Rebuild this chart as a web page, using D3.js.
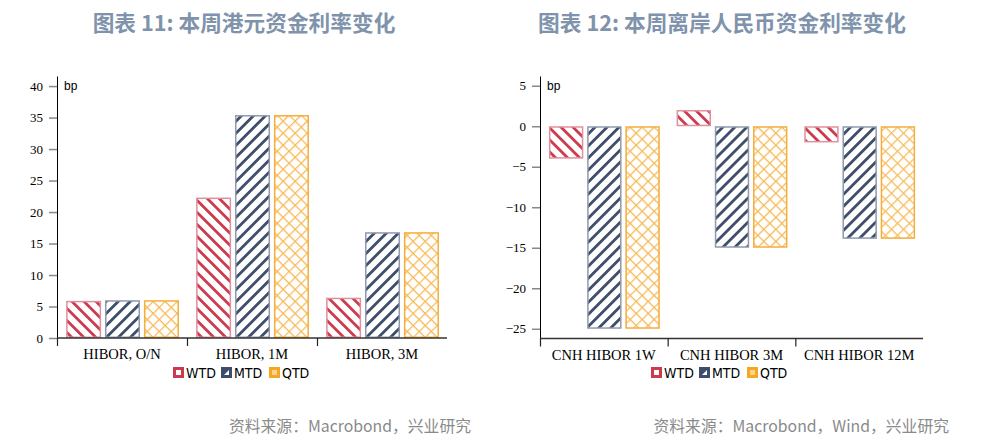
<!DOCTYPE html>
<html><head><meta charset="utf-8">
<script src="https://cdn.jsdelivr.net/npm/d3@7"></script>
<style>body{margin:0;background:#fff}svg{display:block}</style>
</head><body>
<svg id="c" width="981" height="442"></svg>
<script>
const seriesNames = ["WTD", "MTD", "QTD"];
const leftTitle = "图表 11: 本周港元资金利率变化";
const leftCategories = ["HIBOR, O/N", "HIBOR, 1M", "HIBOR, 3M"];
const leftWTD = [5.9, 22.3, 6.4];
const leftMTD = [6.0, 35.4, 16.8];
const leftQTD = [6.0, 35.4, 16.8];
const leftTicks = [0, 5, 10, 15, 20, 25, 30, 35, 40];
const leftSource = "资料来源：Macrobond，兴业研究";

const rightTitle = "图表 12: 本周离岸人民币资金利率变化";
const rightCategories = ["CNH HIBOR 1W", "CNH HIBOR 3M", "CNH HIBOR 12M"];
const rightWTD = [-4.0, 2.0, -2.0];
const rightMTD = [-25.0, -15.0, -13.9];
const rightQTD = [-25.0, -15.0, -13.9];
const rightTicks = [-25, -20, -15, -10, -5, 0, 5];
const rightSource = "资料来源：Macrobond，Wind，兴业研究";

const svg = d3.select("#c");
const defs = svg.append("defs");
function stripe(id, color, angle) {
  const p = defs.append("pattern").attr("id", id).attr("patternUnits", "userSpaceOnUse")
    .attr("width", 8.5).attr("height", 8.5).attr("patternTransform", `rotate(${angle})`);
  p.append("rect").attr("width", 8.5).attr("height", 8.5).attr("fill", "#fff");
  p.append("rect").attr("x", 0).attr("y", 0).attr("width", 2.8).attr("height", 8.5).attr("fill", color);
}
stripe("pW", "#cc3a4e", -45);
stripe("pM", "#3e4d6a", 45);
(function(){
  const p = defs.append("pattern").attr("id", "pQ").attr("patternUnits", "userSpaceOnUse")
    .attr("width", 8.5).attr("height", 8.5).attr("patternTransform", "rotate(45)");
  p.append("rect").attr("width", 8.5).attr("height", 8.5).attr("fill", "#fff");
  p.append("rect").attr("x", 0).attr("width", 1.3).attr("height", 8.5).attr("fill", "#f7bc5a");
  p.append("rect").attr("y", 0).attr("width", 8.5).attr("height", 1.3).attr("fill", "#f7bc5a");
})();
const fills = ["url(#pW)", "url(#pM)", "url(#pQ)"];
const strokes = ["#e0909c", "#8f9aae", "#f5ad3c"];

function chart(o) {
  const g = svg.append("g");
  const y = d3.scaleLinear().domain(o.domain).range([o.bottom, 76]);
  const x0 = d3.scaleBand().domain(o.cats).range([o.left, o.right]);
  const bw = x0.bandwidth();
  const x1 = d3.scaleBand().domain(seriesNames).range([bw * 0.07, bw * 0.938]).paddingInner(0.1);
  const data = o.cats.map((c, i) => ({ c, vals: seriesNames.map((s, j) => ({ s, j, v: o.series[j][i] })) }));

  // title
  g.append("text").attr("x", o.titleX).attr("y", 30.5).attr("text-anchor", "middle")
    .attr("font-family", "'Noto Sans CJK SC'").attr("font-weight", "bold").attr("font-size", 21.7)
    .attr("fill", "#8093ac").text(o.title);

  // bars
  g.selectAll("g.grp").data(data).join("g").attr("transform", d => `translate(${x0(d.c)},0)`)
    .selectAll("rect").data(d => d.vals).join("rect")
    .attr("x", d => x1(d.s) + 0.75).attr("width", x1.bandwidth() - 1.5)
    .attr("y", d => y(Math.max(0, d.v)) + 0.75)
    .attr("height", d => Math.max(0, Math.abs(y(d.v) - y(0)) - 1.5))
    .attr("fill", d => fills[d.j]).attr("stroke", d => strokes[d.j]).attr("stroke-width", 1.5);

  // y axis
  const ya = g.append("g").attr("transform", `translate(${o.left},0)`)
    .call(d3.axisLeft(y).tickValues(o.ticks).tickSize(8).tickPadding(6).tickSizeOuter(0));
  ya.select(".domain").attr("stroke", "#000");
  ya.selectAll(".tick line").attr("stroke", "#888").attr("stroke-width", 1.5);
  ya.selectAll(".tick text").attr("font-family", "'Liberation Serif'").attr("font-size", 13).attr("fill", "#000");

  // x axis
  const xa = g.append("g").attr("transform", `translate(0,${o.bottom})`);
  xa.append("line").attr("x1", o.left).attr("x2", o.right).attr("stroke", "#333").attr("stroke-width", 1.5);
  xa.selectAll("line.sep").data(o.cats).join("line").attr("class", "sep")
    .attr("x1", d => x0(d) + 0.5).attr("x2", d => x0(d) + 0.5).attr("y1", 0).attr("y2", 8)
    .attr("stroke", "#222").attr("stroke-width", 1.2);
  xa.selectAll("text").data(o.cats).join("text")
    .attr("x", d => x0(d) + bw / 2).attr("y", 21).attr("text-anchor", "middle")
    .attr("font-family", "'Liberation Serif'").attr("font-size", 14.5).attr("fill", "#000").text(d => d);

  // unit
  g.append("text").attr("x", o.left + 7).attr("y", 90).attr("font-family", "'Liberation Sans'")
    .attr("font-size", 12).attr("fill", "#000").text("bp");

  // legend
  const lg = g.append("g").attr("transform", `translate(${o.legendX},367)`);
  seriesNames.forEach((s, j) => {
    const it = lg.append("g").attr("transform", `translate(${j * 48},0)`);
    if (j === 0) {
      it.append("rect").attr("x", 1.5).attr("y", 1.5).attr("width", 8).attr("height", 8)
        .attr("fill", "#fff").attr("stroke", "#cc3a4e").attr("stroke-width", 3);
    } else if (j === 1) {
      it.append("rect").attr("width", 11).attr("height", 11).attr("fill", "#3e4d6a");
      it.append("path").attr("d", "M8,3 L8,8 L3,8 Z").attr("fill", "#fff");
    } else {
      it.append("rect").attr("width", 11).attr("height", 11).attr("fill", "#f5a623");
      it.append("rect").attr("x", 3).attr("y", 3).attr("width", 5).attr("height", 5).attr("fill", "#f9d38f");
    }
    it.append("text").attr("x", 13).attr("y", 10.5).attr("font-family", "'Liberation Sans Narrow','DejaVu Sans Condensed',sans-serif")
      .attr("font-size", 14).attr("fill", "#000").text(s);
  });

  // source
  g.append("text").attr("x", o.srcX).attr("y", 432).attr("text-anchor", "end")
    .attr("font-family", "'Noto Sans CJK SC'").attr("font-size", 15.8).attr("fill", "#8a8a8a").text(o.source);
}

chart({ title: leftTitle, titleX: 244, cats: leftCategories, series: [leftWTD, leftMTD, leftQTD],
  domain: [0, 41.6], ticks: leftTicks, left: 57, right: 447, bottom: 338, legendX: 173, srcX: 471, source: leftSource });
chart({ title: rightTitle, titleX: 722, cats: rightCategories, series: [rightWTD, rightMTD, rightQTD],
  domain: [-26.2, 6.2], ticks: rightTicks, left: 540, right: 923, bottom: 338.5, legendX: 651, srcX: 949, source: rightSource });
</script>
</body></html>
